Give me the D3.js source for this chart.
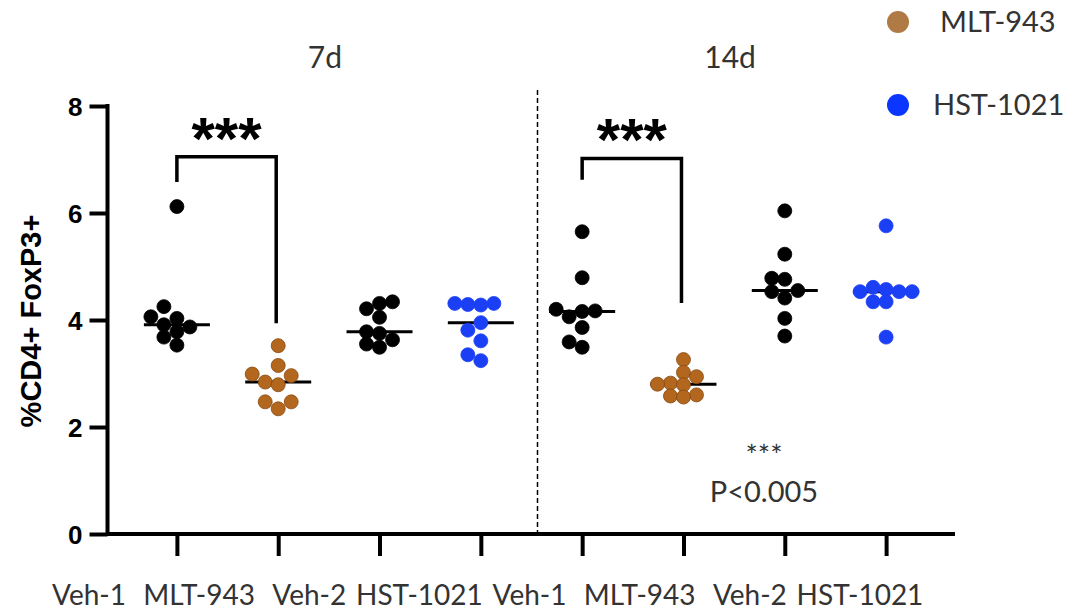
<!DOCTYPE html>
<html>
<head>
<meta charset="utf-8">
<script src="https://cdn.jsdelivr.net/npm/d3@7"></script>
<style>
  body { margin: 0; background: #fff; }
  svg { display: block; }
</style>
</head>
<body>
<div id="chart"></div>
<script>
// ---- data ----
const timepoints = ["7d", "14d"];
const treatments = ["Veh-1", "MLT-943", "Veh-2", "HST-1021"];
const yTicks = [0, 2, 4, 6, 8];

const veh1_7d = [6.12, 4.25, 4.06, 4.03, 3.91, 3.87, 3.78, 3.68, 3.53];
const mlt_7d = [3.52, 3.15, 2.99, 2.96, 2.84, 2.79, 2.47, 2.47, 2.34];
const veh2_7d = [4.34, 4.31, 4.21, 4.05, 3.78, 3.75, 3.63, 3.55, 3.49];
const hst_7d = [4.31, 4.31, 4.29, 4.28, 3.95, 3.81, 3.61, 3.35, 3.24];
const veh1_14d = [5.65, 4.79, 4.2, 4.17, 4.16, 4.06, 3.86, 3.59, 3.49];
const mlt_14d = [3.26, 3.02, 2.94, 2.82, 2.8, 2.79, 2.6, 2.58, 2.56];
const veh2_14d = [6.04, 5.23, 4.78, 4.76, 4.55, 4.53, 4.41, 4.03, 3.7];
const hst_14d = [5.76, 4.61, 4.57, 4.53, 4.53, 4.53, 4.34, 4.34, 3.68];

// significance brackets: [timepoint, left group, right group, bracket top, left leg end, right leg end]
const brackets = [
  ["7d", "Veh-1", "MLT-943", 7.05, 6.58, 3.94],
  ["14d", "Veh-1", "MLT-943", 7.02, 6.62, 4.32]
];
const legendItems = ["MLT-943", "HST-1021"];
const noteLines = ["***", "P<0.005"];

// ---- build table ----
const groups = [
  { tp: "7d", trt: "Veh-1", values: veh1_7d },
  { tp: "7d", trt: "MLT-943", values: mlt_7d },
  { tp: "7d", trt: "Veh-2", values: veh2_7d },
  { tp: "7d", trt: "HST-1021", values: hst_7d },
  { tp: "14d", trt: "Veh-1", values: veh1_14d },
  { tp: "14d", trt: "MLT-943", values: mlt_14d },
  { tp: "14d", trt: "Veh-2", values: veh2_14d },
  { tp: "14d", trt: "HST-1021", values: hst_14d }
].map((g) => ({ ...g, key: `${g.tp}|${g.trt}` }));

const width = 1091,
  height = 612;
const colors = { "MLT-943": "#b3661d", "HST-1021": "#1b3ff4" };
const strokes = { "MLT-943": "#86490f", "HST-1021": "#1b3ff4" };
const legendColors = { "MLT-943": "#b07a45", "HST-1021": "#0a36ff" };
const textFont = "Lato, 'Open Sans', sans-serif";
const boldFont = "'Liberation Sans', Arial, sans-serif";
const r = 7;

const x = d3
  .scalePoint()
  .domain(groups.map((d) => d.key))
  .range([108, 955])
  .padding(0.68);

const y = d3.scaleLinear().domain([0, 8]).range([534, 106]);

// tick labels row sits on its own spacing in the original
const xLabel = d3
  .scalePoint()
  .domain(groups.map((d) => d.key))
  .range([89, 860]);

const svg = d3
  .select("#chart")
  .append("svg")
  .attr("width", width)
  .attr("height", height)
  .attr("viewBox", [0, 0, width, height]);

// panel divider
const divX = (x(groups[3].key) + x(groups[4].key)) / 2 + 6;
svg
  .append("line")
  .attr("x1", divX)
  .attr("x2", divX)
  .attr("y1", 90)
  .attr("y2", y(0))
  .attr("stroke", "#000")
  .attr("stroke-width", 1.5)
  .attr("stroke-dasharray", "5,3");

// y axis
const yAxis = svg
  .append("g")
  .attr("transform", "translate(107.5,0)")
  .call(d3.axisLeft(y).tickValues(yTicks).tickSize(18).tickPadding(7));
yAxis
  .select(".domain")
  .attr("stroke", "#000")
  .attr("stroke-width", 4)
  .attr("d", `M0,${y(8) - 2}V${y(0) + 2}`);
yAxis.selectAll(".tick line").attr("stroke", "#000").attr("stroke-width", 4);
yAxis
  .selectAll(".tick text")
  .attr("font-family", boldFont)
  .attr("font-weight", "bold")
  .attr("font-size", 26)
  .attr("dy", "0.36em")
  .attr("fill", "#000");

// x axis
const xAxis = svg
  .append("g")
  .attr("transform", `translate(0,${y(0)})`)
  .call(d3.axisBottom(x).tickSize(22).tickFormat(""));
xAxis
  .select(".domain")
  .attr("stroke", "#000")
  .attr("stroke-width", 4)
  .attr("d", `M106,0H955`);
xAxis.selectAll(".tick line").attr("stroke", "#000").attr("stroke-width", 4);

svg
  .append("g")
  .selectAll("text")
  .data(groups)
  .join("text")
  .attr("x", (d) => xLabel(d.key))
  .attr("y", 605)
  .attr("text-anchor", "middle")
  .attr("font-family", textFont)
  .attr("font-size", 28)
  .attr("fill", "#333")
  .text((d) => d.trt);

// y title
svg
  .append("text")
  .attr("transform", `translate(41,${(y(0) + y(8)) / 2 + 1}) rotate(-90)`)
  .attr("text-anchor", "middle")
  .attr("font-family", boldFont)
  .attr("font-weight", "bold")
  .attr("font-size", 29)
  .text("%CD4+ FoxP3+");

// panel titles
svg
  .append("g")
  .selectAll("text")
  .data(timepoints)
  .join("text")
  .attr("x", (tp) => {
    const ks = groups.filter((g) => g.tp === tp).map((g) => x(g.key));
    return d3.mean(ks) - 4;
  })
  .attr("y", 68)
  .attr("text-anchor", "middle")
  .attr("font-family", textFont)
  .attr("font-size", 30)
  .attr("fill", "#333")
  .text((d) => d);

// medians (behind points)
svg
  .append("g")
  .selectAll("line")
  .data(groups)
  .join("line")
  .attr("x1", (d) => x(d.key) - 33)
  .attr("x2", (d) => x(d.key) + 33)
  .attr("y1", (d) => y(d3.median(d.values)))
  .attr("y2", (d) => y(d3.median(d.values)))
  .attr("stroke", "#000")
  .attr("stroke-width", 3);

// simple slot dodge so the points sit side by side like a scatter-dot plot
function dodge(values, cx) {
  const slot = 13,
    minDist = 12;
  const placed = [];
  const order = values.map((v, i) => i).sort((a, b) => values[a] - values[b]);
  const out = new Array(values.length);
  order.forEach((i) => {
    const py = y(values[i]);
    for (let k = 0; k < 20; k++) {
      const s = k === 0 ? 0 : (k % 2 ? -1 : 1) * Math.ceil(k / 2);
      const px = cx + s * slot;
      if (placed.every((p) => Math.hypot(p[0] - px, p[1] - py) >= minDist)) {
        placed.push([px, py]);
        out[i] = { x: px, y: py, v: values[i] };
        break;
      }
    }
  });
  return out;
}

const points = groups.flatMap((g) =>
  dodge(g.values, x(g.key)).map((p) => ({ ...p, trt: g.trt }))
);

svg
  .append("g")
  .selectAll("circle")
  .data(points)
  .join("circle")
  .attr("cx", (d) => d.x)
  .attr("cy", (d) => d.y)
  .attr("r", r)
  .attr("fill", (d) => colors[d.trt] || "#000")
  .attr("stroke", (d) => strokes[d.trt] || "#000")
  .attr("stroke-width", 0.8);

// brackets
const br = svg.append("g");
brackets.forEach(([tp, a, b, top, l, rr]) => {
  const x1 = x(`${tp}|${a}`),
    x2 = x(`${tp}|${b}`) - 2;
  br.append("path")
    .attr("d", `M${x1},${y(l)}V${y(top)}H${x2}V${y(rr)}`)
    .attr("fill", "none")
    .attr("stroke", "#000")
    .attr("stroke-width", 3.5);
  br.append("text")
    .attr("x", (x1 + x2) / 2)
    .attr("y", y(top) + 2)
    .attr("text-anchor", "middle")
    .attr("font-family", boldFont)
    .attr("font-weight", "bold")
    .attr("font-size", 60)
    .text("***");
});

// p-value note
svg
  .append("g")
  .selectAll("text")
  .data(noteLines)
  .join("text")
  .attr("x", 764)
  .attr("y", (d, i) => (i === 0 ? 466 : 502))
  .attr("text-anchor", "middle")
  .attr("font-family", textFont)
  .attr("font-size", 29)
  .attr("fill", "#333")
  .text((d) => d);

// legend
const lg = svg
  .append("g")
  .selectAll("g")
  .data(legendItems)
  .join("g")
  .attr("transform", (d, i) => `translate(898,${22 + i * 83})`);
lg.append("circle").attr("r", 11).attr("fill", (d) => legendColors[d]);
lg.append("text")
  .attr("x", (d, i) => (i === 0 ? 42 : 35))
  .attr("y", 10)
  .attr("font-family", textFont)
  .attr("font-size", 29)
  .attr("fill", "#333")
  .text((d) => d);
</script>
</body>
</html>
